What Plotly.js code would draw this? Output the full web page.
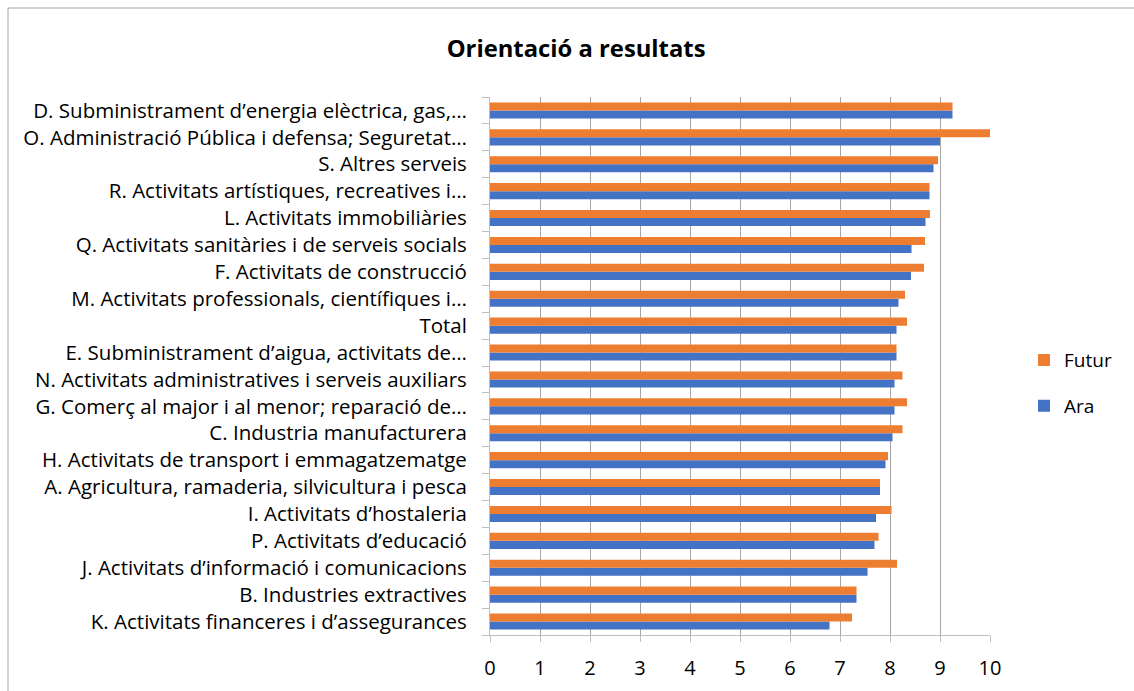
<!DOCTYPE html>
<html>
<head>
<meta charset="utf-8">
<script src="https://cdn.plot.ly/plotly-3.0.1.min.js"></script>
<style>
html,body{margin:0;padding:0;background:#fff;}
#chart{width:1134px;height:691px;}
</style>
</head>
<body>
<div id="chart"></div>
<script>
// Categories listed top to bottom as in the reference
const categories = [
  "D. Subministrament d\u2019energia elèctrica, gas,\u2026",
  "O. Administració Pública i defensa; Seguretat\u2026",
  "S. Altres serveis",
  "R. Activitats artístiques, recreatives i\u2026",
  "L. Activitats immobiliàries",
  "Q. Activitats sanitàries i de serveis socials",
  "F. Activitats de construcció",
  "M. Activitats professionals, científiques i\u2026",
  "Total",
  "E. Subministrament d\u2019aigua, activitats de\u2026",
  "N. Activitats administratives i serveis auxiliars",
  "G. Comerç al major i al menor; reparació de\u2026",
  "C. Industria manufacturera",
  "H. Activitats de transport i emmagatzematge",
  "A. Agricultura, ramaderia, silvicultura i pesca",
  "I. Activitats d\u2019hostaleria",
  "P. Activitats d\u2019educació",
  "J. Activitats d\u2019informació i comunicacions",
  "B. Industries extractives",
  "K. Activitats financeres i d\u2019assegurances"
];
const futur = [9.25, 10.0, 8.96, 8.79, 8.80, 8.70, 8.68, 8.30, 8.34, 8.13, 8.25, 8.34, 8.25, 7.96, 7.80, 8.03, 7.77, 8.14, 7.33, 7.24];
const ara   = [9.25, 9.00, 8.87, 8.79, 8.71, 8.43, 8.42, 8.17, 8.13, 8.13, 8.09, 8.09, 8.05, 7.91, 7.80, 7.72, 7.69, 7.55, 7.33, 6.79];
const xTicks = [0,1,2,3,4,5,6,7,8,9,10];

const fontFam = '"Open Sans", "Liberation Sans", sans-serif';

const traces = [
  {type:'bar', orientation:'h', name:'Ara', y:categories, x:ara,
   marker:{color:'#4472C4'}, legendgroup:'a', legendrank:2, hoverinfo:'x+y'},
  {type:'bar', orientation:'h', name:'Futur', y:categories, x:futur,
   marker:{color:'#ED7D31'}, legendgroup:'b', legendrank:1, hoverinfo:'x+y'}
];

const layout = {
  width:1134, height:691,
  margin:{l:490, r:144, t:97, b:56, pad:0},
  paper_bgcolor:'#fff', plot_bgcolor:'#fff',
  font:{family:fontFam, size:16, color:'#000'},
  title:{text:'<b>Orientació a resultats</b>', font:{family:fontFam, size:23.8, color:'#000'},
         x:0.508, xanchor:'center', y:0.93, yanchor:'middle'},
  barmode:'group', bargap:0.4, bargroupgap:0,
  xaxis:{range:[0,10], tickvals:xTicks, ticktext:xTicks.map(String), showgrid:true,
         gridcolor:'#a6a6a6', gridwidth:1, zeroline:false,
         showline:true, linecolor:'#bfbfbf', linewidth:1,
         ticks:'outside', ticklen:6, tickcolor:'#bfbfbf',
         ticklabelstandoff:9, tickfont:{size:20, family:fontFam}, fixedrange:true},
  yaxis:{type:'category', categoryorder:'array', categoryarray:categories.slice().reverse(),
         showgrid:false, showline:true, linecolor:'#bfbfbf', linewidth:1,
         ticks:'outside', ticklen:7, tickcolor:'#bfbfbf', tickson:'boundaries',
         ticklabelstandoff:18, tickfont:{size:20.5, family:fontFam}, fixedrange:true},
  legend:{x:1.068, xanchor:'left', y:0.468, yanchor:'middle', traceorder:'grouped',
          tracegroupgap:18, font:{size:19, family:fontFam}, bgcolor:'rgba(0,0,0,0)'},
  showlegend:true,
  shapes:[
    {type:'line', xref:'paper', yref:'paper', x0:-0.964, x1:1.4, y0:1.1654, y1:1.1654,
     line:{color:'#a6a6a6', width:1}},
    {type:'line', xref:'paper', yref:'paper', x0:-0.964, x1:-0.964, y0:1.1654, y1:-0.2,
     line:{color:'#a6a6a6', width:1}}
  ]
};

Plotly.newPlot('chart', traces, layout, {displayModeBar:false, staticPlot:true});
</script>
</body>
</html>
